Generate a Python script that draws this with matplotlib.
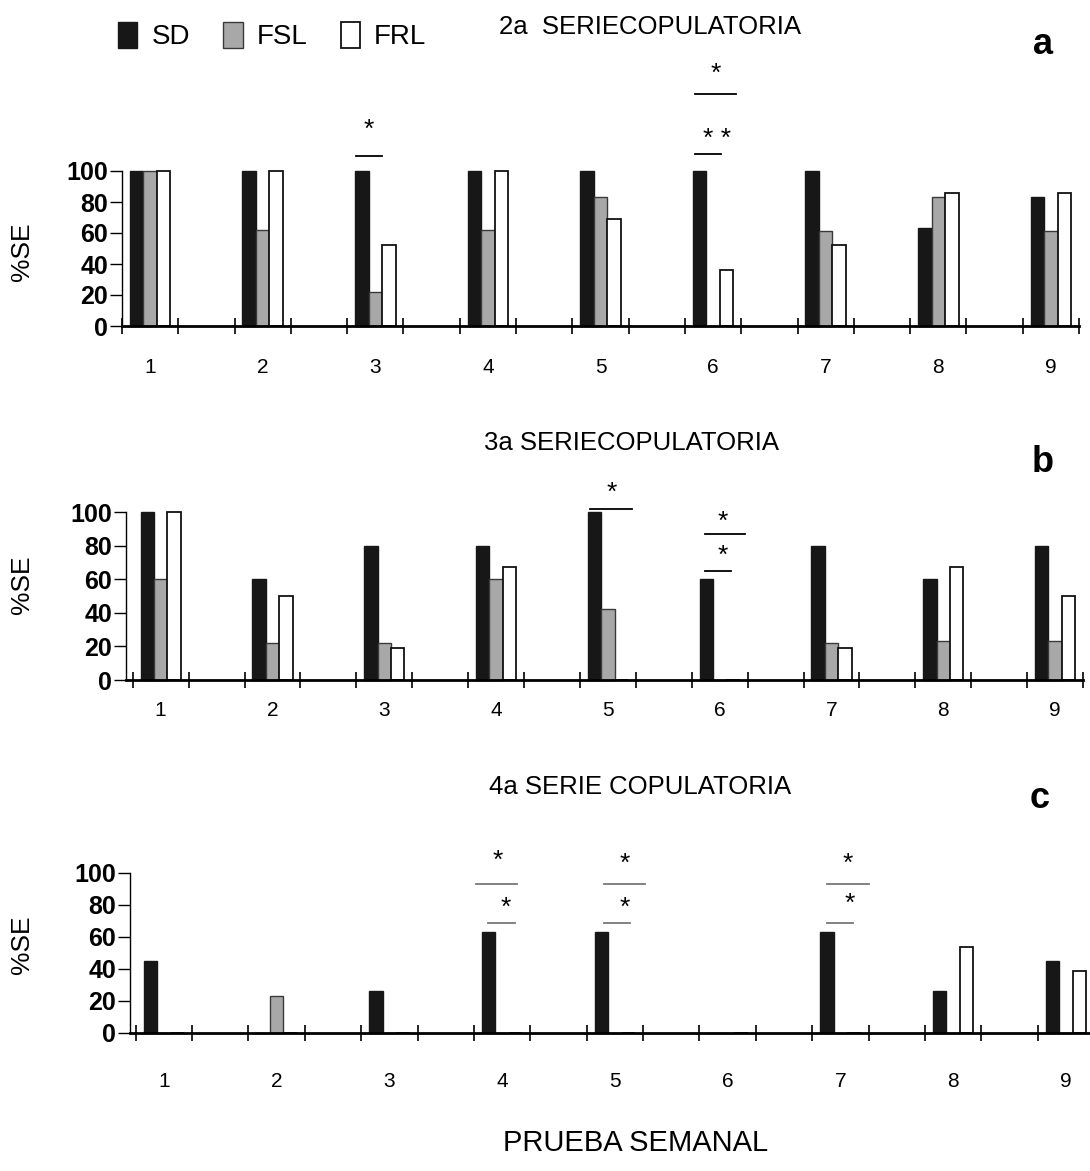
import matplotlib.pyplot as plt
import numpy as np

plt.rcParams['font.family'] = ['Liberation Sans', 'DejaVu Sans']

weeks = ['1', '2', '3', '4', '5', '6', '7', '8', '9']
series = ['SD', 'FSL', 'FRL']

# %SE per weekly test, 2a serie copulatoria
sd_a = [100, 100, 100, 100, 100, 100, 100, 63, 83]
fsl_a = [100, 62, 22, 62, 83, 0, 61, 83, 61]
frl_a = [100, 100, 52, 100, 69, 36, 52, 86, 86]

# 3a serie copulatoria
sd_b = [100, 60, 80, 80, 100, 60, 80, 60, 80]
fsl_b = [60, 22, 22, 60, 42, 0, 22, 23, 23]
frl_b = [100, 50, 19, 67, 0, 0, 19, 67, 50]

# 4a serie copulatoria
sd_c = [45, 0, 26, 63, 63, 0, 63, 26, 45]
fsl_c = [0, 23, 0, 0, 0, 0, 0, 0, 0]
frl_c = [0, 0, 0, 0, 0, 0, 0, 54, 39]

# significance marks: (week, line start, line end, line height, text, text offset, text height)
sig_a = [(3, -0.35, 0.11, 110, '*', -0.12, 119),
         (6, -0.32, 0.41, 150, '*', 0.05, 155),
         (6, -0.32, 0.14, 111, '* *', 0.07, 113)]
sig_b = [(5, -0.32, 0.43, 102, '*', 0.07, 104),
         (6, -0.27, 0.46, 87, '*', 0.05, 87),
         (6, -0.27, 0.20, 65, '*', 0.05, 67)]
sig_c = [(4, -0.46, 0.27, 93, '*', -0.07, 100),
         (4, -0.25, 0.23, 69, '*', 0.07, 71),
         (5, -0.20, 0.53, 93, '*', 0.18, 98),
         (5, -0.20, 0.27, 69, '*', 0.18, 71),
         (7, -0.23, 0.50, 93, '*', 0.14, 98),
         (7, -0.23, 0.23, 69, '*', 0.16, 73)]

W, H = 1090, 1171
fig = plt.figure(figsize=(W / 100, H / 100), dpi=100)


def place(left, right, y0, ppu, ylo, yhi):
    bottom = y0 - ylo * ppu
    top = y0 - yhi * ppu
    return [left / W, 1 - bottom / H, (right - left) / W, (bottom - top) / H]


def draw_panel(ax, sd, fsl, frl, sigs, xlo, ylim, pad, line_col):
    x = np.arange(len(weeks)) * 2
    w = 0.24
    bars = []
    bars.append(ax.bar(x - w, sd, w, color='#171717', edgecolor='#171717', lw=1))
    bars.append(ax.bar(x, fsl, w, color='#a8a8a8', edgecolor='#3a3a3a', lw=1))
    bars.append(ax.bar(x + w, frl, w, color='white', edgecolor='#111111', lw=1.3))
    ax.set_xlim(xlo, 16.5)
    ax.set_ylim(*ylim)
    for s in ['top', 'right']:
        ax.spines[s].set_visible(False)
    ax.spines['bottom'].set_position(('data', 0))
    ax.spines['bottom'].set_linewidth(2)
    ax.spines['left'].set_bounds(0, 100)
    ax.spines['left'].set_linewidth(1)
    ax.set_xticks(np.arange(-0.5, 17, 1))
    ax.set_xticklabels([])
    ax.tick_params(axis='x', which='major', direction='inout', length=12, width=1.2)
    ax.set_xticks(x, minor=True)
    ax.set_xticklabels(weeks, minor=True, fontsize=15)
    ax.tick_params(axis='x', which='minor', length=0, pad=pad)
    ax.set_yticks([0, 20, 40, 60, 80, 100])
    ax.set_yticklabels(['0', '20', '40', '60', '80', '100'], fontsize=18, fontweight='bold')
    ax.tick_params(axis='y', direction='out', length=9, width=1, pad=1)
    for wk, a, b, yl, txt, tx, ty in sigs:
        c = (wk - 1) * 2
        ax.plot([c + a, c + b], [yl, yl], color=line_col, lw=1.3, clip_on=False)
        ax.text(c + tx, ty, txt, ha='center', va='bottom', fontsize=19)
    return bars


ax_a = fig.add_axes(place(122, 1079, 326, 1.55, -8, 165))
ax_b = fig.add_axes(place(126, 1083, 680, 1.68, -6, 120))
ax_c = fig.add_axes(place(130, 1094, 1033, 1.6, -6, 115))
for ax in (ax_a, ax_b, ax_c):
    ax.patch.set_visible(False)

bars = draw_panel(ax_a, sd_a, fsl_a, frl_a, sig_a, -0.5, (-8, 165), 23, 'black')
draw_panel(ax_b, sd_b, fsl_b, frl_b, sig_b, -0.62, (-6, 120), 15, 'black')
draw_panel(ax_c, sd_c, fsl_c, frl_c, sig_c, -0.6, (-6, 115), 28, '#777777')

fig.legend(bars, series, loc='center left', bbox_to_anchor=(118 / W, 1 - 36 / H),
           ncol=3, frameon=False, fontsize=20, handlelength=0.7, handleheight=1.1,
           handletextpad=0.5, columnspacing=1.2, borderaxespad=0, borderpad=0)

fig.text(650 / W, 1 - 27 / H, '2a  SERIECOPULATORIA', ha='center', va='center', fontsize=18.5)
fig.text(632 / W, 1 - 443 / H, '3a SERIECOPULATORIA', ha='center', va='center', fontsize=18.5)
fig.text(640 / W, 1 - 787 / H, '4a SERIE COPULATORIA', ha='center', va='center', fontsize=18.5)

for lbl, px, py in [('a', 1043, 44), ('b', 1043, 463), ('c', 1040, 798)]:
    fig.text(px / W, 1 - py / H, lbl, ha='center', va='center', fontsize=26, fontweight='bold')

for py in [252, 585, 945]:
    fig.text(22 / W, 1 - py / H, '%SE', ha='center', va='center', rotation=90, fontsize=19)

fig.text(636 / W, 1 - 1143 / H, 'PRUEBA SEMANAL', ha='center', va='center', fontsize=21)

fig.savefig('out.png', dpi=100)
